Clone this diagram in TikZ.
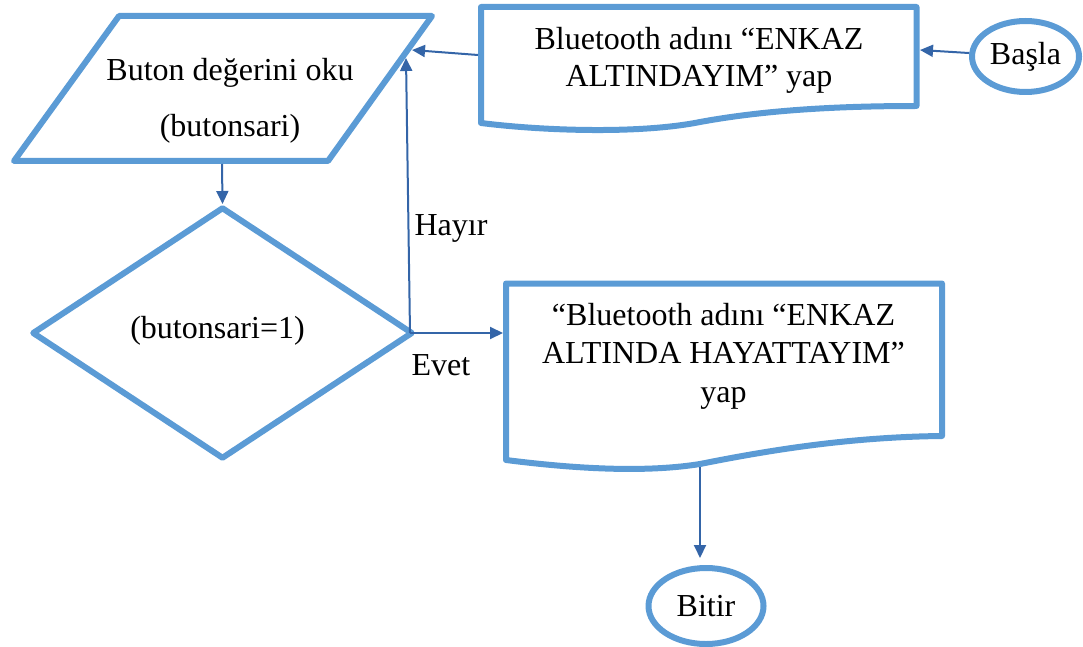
\documentclass[tikz,border=0pt]{standalone}
\usepackage{fontspec}
\setmainfont{Liberation Serif}
\usetikzlibrary{arrows.meta,shapes.geometric}
\definecolor{boxblue}{HTML}{5B9BD5}
\definecolor{arrowblue}{HTML}{3465A8}
\tikzset{
  outline/.style={draw=boxblue, line width=6pt, line join=round},
  termnode/.style={ellipse, outline, inner sep=0pt},
  decnode/.style={diamond, outline, inner sep=0pt},
  txt/.style={align=center, inner sep=0pt},
  fwd/.style={-{Triangle[length=13pt,width=12pt]}, draw=arrowblue, line width=2pt},
}
\begin{document}
\begin{tikzpicture}[x=1pt, y=-1pt, font=\fontsize{32}{37}\selectfont]
  \useasboundingbox (0,0) rectangle (1083,647);

  \node[termnode, minimum width=107pt, minimum height=71pt] (basla) at (1025.5,56.5) {Başla};
  \draw[outline] (481,7) -- (916.5,7) -- (916.5,106) .. controls (830,106) and (760,111) .. (700,122)
    .. controls (640,134) and (545,131) .. (481,123) -- cycle;
  \node[txt] (isim1) at (699,60) {Bluetooth adını “ENKAZ\\ALTINDAYIM” yap};

  \draw[outline] (119,16) -- (432,16) -- (328,161) -- (14,161) -- cycle;
  \node[txt, font=\fontsize{32}{56}\selectfont] (oku) at (230,100.5) {Buton değerini oku\\(butonsari)};

  \node[decnode, minimum width=381pt, minimum height=252pt,
        label={[xshift=-5pt, yshift=2pt]center:(butonsari=1)}] (kosul) at (222.5,333) {};

  \draw[outline] (506,283.5) -- (942,283.5) -- (942,436) .. controls (850,437) and (770,450) .. (700,464)
    .. controls (650,472) and (585,470) .. (506,460) -- cycle;
  \node[txt, font=\fontsize{32}{38.5}\selectfont] (isim2) at (723.5,356) {“Bluetooth adını “ENKAZ\\ALTINDA HAYATTAYIM”\\yap};

  \node[termnode, minimum width=115pt, minimum height=76pt] (bitir) at (706,606) {Bitir};

  % connector ends on the drawn outlines
  \coordinate (doc1E) at (920,50);
  \coordinate (doc1W) at (478,55);
  \coordinate (okuE) at (412,50);
  \coordinate (okuH) at (406,58);
  \coordinate (okuS) at (222,164);
  \coordinate (doc2W) at (503,333);
  \coordinate (doc2S) at (700,467);

  \draw[fwd] (basla) -- (doc1E);
  \draw[fwd] (doc1W) -- (okuE);
  \draw[fwd] (okuS) -- (kosul.north);
  \draw[fwd] ([xshift=-6pt]kosul.east) -- (okuH);
  \draw[fwd] ([xshift=-6pt]kosul.east) -- (doc2W);
  \draw[fwd, shorten >=7pt] (doc2S) -- (doc2S |- bitir.north);

  \node[anchor=base] (hayir) at (451,235) {Hayır};
  \node[anchor=base] (evet) at (441,375) {Evet};
\end{tikzpicture}
\end{document}
